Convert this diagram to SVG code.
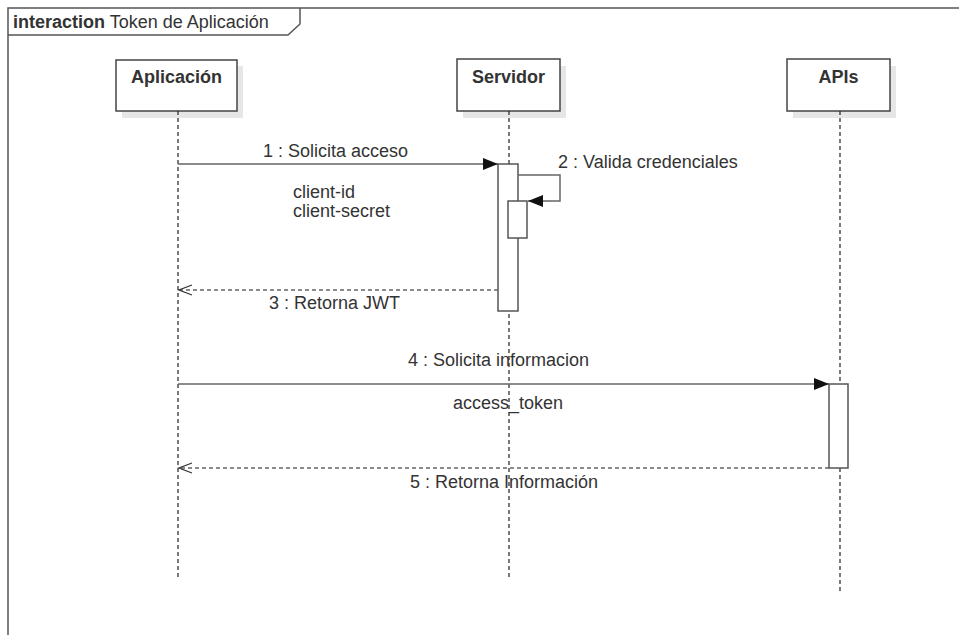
<svg xmlns="http://www.w3.org/2000/svg" width="959" height="635" viewBox="0 0 959 635">
<defs>
<style>
text{font-family:"Liberation Sans",Arial,sans-serif;font-size:18px;fill:#333}
.b{font-weight:bold}
.box{fill:#fff;stroke:#444;stroke-width:1.5}
.shadow{fill:#e6e6e6}
.life{stroke:#222;stroke-width:1.2;stroke-dasharray:4 3;fill:none}
.act{fill:#fff;stroke:#555;stroke-width:1.5}
.msg{stroke:#666;stroke-width:1.5;fill:none}
.ret{stroke:#666;stroke-width:1.5;stroke-dasharray:4 3;fill:none}
</style>
<marker id="filled" markerWidth="16" markerHeight="12" refX="15" refY="6" orient="auto" markerUnits="userSpaceOnUse">
<path d="M0,0 L15,6 L0,12 Z" fill="#111"/>
</marker>
<marker id="open" markerWidth="16" markerHeight="12" refX="14" refY="6" orient="auto" markerUnits="userSpaceOnUse">
<path d="M1,1 L14,6 L1,11" fill="none" stroke="#333" stroke-width="1.3"/>
</marker>
</defs>
<rect width="959" height="635" fill="#fff"/>
<g id="frame">
<path d="M8,635 L8,8 L959,8" fill="none" stroke="#555" stroke-width="1.5"/>
<path d="M8,35 L288,35 L300,24 L300,8" fill="none" stroke="#555" stroke-width="1.5"/>
<text x="13" y="28"><tspan class="b">interaction</tspan> Token de Aplicación</text>
</g>
<g id="aplicacion">
<rect class="shadow" x="122" y="66" width="121" height="52"/>
<rect class="box" x="116" y="60" width="121" height="51"/>
<text class="b" x="176.5" y="83" text-anchor="middle">Aplicación</text>
<line class="life" x1="178" y1="111" x2="178" y2="578"/>
</g>
<g id="servidor">
<rect class="shadow" x="463" y="66" width="103" height="52"/>
<rect class="box" x="457" y="59" width="103" height="52"/>
<text class="b" x="508.5" y="83" text-anchor="middle">Servidor</text>
<line class="life" x1="509" y1="111" x2="509" y2="580"/>
<rect class="act" x="498" y="164" width="20" height="147"/>
<rect class="act" x="508" y="201" width="19" height="37"/>
</g>
<g id="apis">
<rect class="shadow" x="793" y="66" width="103" height="52"/>
<rect class="box" x="787" y="59" width="103" height="52"/>
<text class="b" x="838.5" y="83" text-anchor="middle">APIs</text>
<line class="life" x1="840" y1="111" x2="840" y2="594"/>
<rect class="act" x="829" y="384" width="19" height="84"/>
</g>
<g id="connectors">
<line class="msg" x1="178" y1="164" x2="498" y2="164" marker-end="url(#filled)"/>
<path class="msg" d="M518,175 L560,175 L560,201 L528,201" marker-end="url(#filled)"/>
<line class="ret" x1="498" y1="290" x2="179" y2="290" marker-end="url(#open)"/>
<line class="msg" x1="178" y1="384" x2="829" y2="384" marker-end="url(#filled)"/>
<line class="ret" x1="829" y1="468" x2="179" y2="468" marker-end="url(#open)"/>
<text x="263" y="157">1 : Solicita acceso</text>
<text x="293" y="198">client-id</text>
<text x="293" y="217">client-secret</text>
<text x="558" y="168">2 : Valida credenciales</text>
<text x="269" y="309">3 : Retorna JWT</text>
<text x="408" y="366">4 : Solicita informacion</text>
<text x="453" y="409">access_token</text>
<text x="410" y="488">5 : Retorna Información</text>
</g>
</svg>
